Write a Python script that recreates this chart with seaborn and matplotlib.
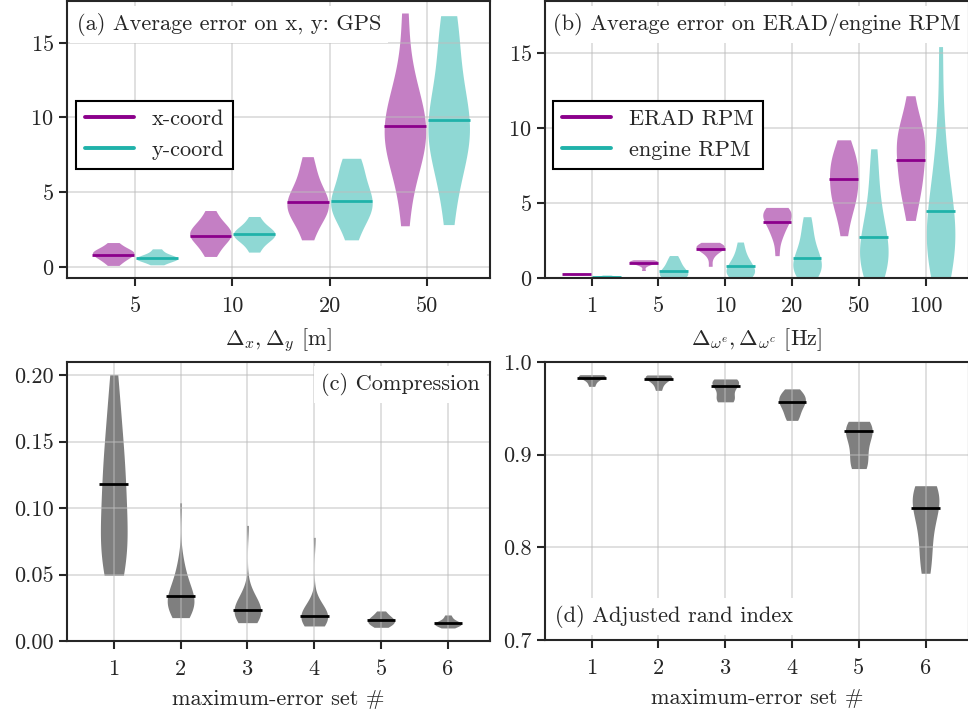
import pandas as pd
import matplotlib
matplotlib.use("Agg")
import matplotlib.pyplot as plt
from matplotlib.lines import Line2D
import seaborn as sns

# Category labels
gps_steps = ["5", "10", "20", "50"]
rpm_steps = ["1", "5", "10", "20", "50", "100"]
error_sets = ["1", "2", "3", "4", "5", "6"]

# (a) average GPS error samples, one list per step
gps_x = [
    [0.11, 0.35, 0.5, 0.62, 0.72, 0.8, 0.88, 0.95, 1.0, 1.05, 1.12, 1.25, 1.4, 1.64],
    [0.71, 1.2, 1.5, 1.8, 2.0, 2.1, 2.2, 2.3, 2.5, 2.7, 2.9, 3.2, 3.78],
    [1.82, 2.8, 3.3, 3.6, 3.9, 4.1, 4.3, 4.5, 4.8, 5.2, 5.8, 6.5, 7.38],
    [2.76, 5.5, 6.8, 7.5, 8.0, 8.5, 9.0, 9.4, 9.8, 10.3, 11.0, 12.0, 13.5, 16.98],
]
gps_y = [
    [0.15, 0.35, 0.45, 0.5, 0.55, 0.6, 0.65, 0.7, 0.8, 0.95, 1.22],
    [1.0, 1.5, 1.8, 2.0, 2.1, 2.2, 2.3, 2.4, 2.6, 2.9, 3.38],
    [1.82, 2.9, 3.4, 3.8, 4.1, 4.3, 4.6, 5.0, 5.5, 6.2, 6.9, 7.27],
    [2.84, 5.5, 7.0, 7.8, 8.4, 8.9, 9.4, 9.9, 10.5, 11.5, 12.8, 14.5, 16.0, 16.8],
]
gps_x_mean = [0.78, 2.11, 4.38, 9.44]
gps_y_mean = [0.60, 2.18, 4.40, 9.82]

# (b) average ERAD / engine RPM error samples
erad = [
    [0.2, 0.25, 0.27, 0.28, 0.3, 0.33],
    [0.5, 0.85, 0.95, 1.0, 1.05, 1.08, 1.1, 1.12, 1.15, 1.18, 1.22],
    [0.78, 1.4, 1.7, 1.85, 1.95, 2.0, 2.05, 2.1, 2.15, 2.2, 2.25, 2.38],
    [1.49, 2.6, 3.0, 3.3, 3.6, 3.85, 4.0, 4.15, 4.3, 4.4, 4.5, 4.6, 4.71],
    [2.82, 4.2, 4.9, 5.3, 5.6, 6.0, 6.5, 7.0, 7.3, 7.6, 8.0, 8.5, 9.22],
    [3.84, 5.3, 5.9, 6.4, 7.0, 7.6, 8.2, 8.8, 9.2, 9.5, 9.8, 10.5, 12.16],
]
engine = [
    [0.0, 0.02, 0.04, 0.06, 0.08, 0.1, 0.13, 0.2],
    [0.0, 0.05, 0.1, 0.2, 0.3, 0.4, 0.5, 0.6, 0.8, 1.0, 1.2, 1.5],
    [0.0, 0.1, 0.2, 0.3, 0.45, 0.6, 0.75, 0.9, 1.1, 1.4, 1.8, 2.4],
    [0.0, 0.2, 0.4, 0.6, 0.8, 1.0, 1.2, 1.5, 1.8, 2.2, 2.8, 3.4, 4.09],
    [0.0, 0.3, 0.7, 1.0, 1.4, 1.8, 2.2, 2.6, 3.1, 3.7, 4.5, 5.6, 7.0, 8.62],
    [0.0, 0.6, 1.2, 1.8, 2.3, 2.8, 3.3, 3.9, 4.6, 5.5, 6.6, 8.2, 10.5, 15.44],
]
erad_mean = [0.27, 1.0, 1.96, 3.73, 6.58, 7.87]
engine_mean = [0.09, 0.44, 0.78, 1.36, 2.71, 4.49]

# (c) compression per maximum-error set
compression = [
    [0.0495, 0.052, 0.058, 0.066, 0.072, 0.078, 0.085, 0.095, 0.105, 0.115,
     0.122, 0.13, 0.14, 0.15, 0.165, 0.18, 0.2005],
    [0.0176, 0.019, 0.021, 0.023, 0.025, 0.026, 0.027, 0.028, 0.029, 0.030, 0.031,
     0.032, 0.034, 0.036, 0.038, 0.040, 0.043, 0.046, 0.050, 0.055, 0.062, 0.104],
    [0.0138, 0.015, 0.016, 0.017, 0.018, 0.019, 0.020, 0.021, 0.022, 0.023,
     0.024, 0.025, 0.026, 0.027, 0.028, 0.030, 0.032, 0.035, 0.039, 0.087],
    [0.0113, 0.012, 0.013, 0.014, 0.015, 0.016, 0.017, 0.0175, 0.018, 0.0185,
     0.019, 0.020, 0.021, 0.022, 0.023, 0.025, 0.027, 0.030, 0.078],
    [0.0103, 0.012, 0.013, 0.014, 0.015, 0.016, 0.017, 0.018, 0.02, 0.0226],
    [0.0098, 0.011, 0.012, 0.0125, 0.013, 0.0135, 0.014, 0.015, 0.017, 0.0196],
]
compression_mean = [0.118, 0.0339, 0.0236, 0.0188, 0.0156, 0.0133]

# (d) adjusted rand index per maximum-error set
ari = [
    [0.9737, 0.978, 0.981, 0.983, 0.984, 0.985, 0.9855, 0.986, 0.9863],
    [0.9694, 0.975, 0.979, 0.981, 0.983, 0.984, 0.985, 0.9855, 0.986],
    [0.957, 0.958, 0.96, 0.963, 0.968, 0.972, 0.975, 0.977, 0.979, 0.98, 0.981, 0.9817],
    [0.937, 0.94, 0.945, 0.95, 0.953, 0.956, 0.958, 0.96, 0.962, 0.965, 0.968, 0.971],
    [0.885, 0.887, 0.892, 0.9, 0.908, 0.915, 0.92, 0.925, 0.928, 0.931, 0.934, 0.936],
    [0.772, 0.785, 0.8, 0.815, 0.828, 0.838, 0.845, 0.85, 0.855, 0.86, 0.864, 0.8665],
]
ari_mean = [0.9827, 0.982, 0.974, 0.957, 0.926, 0.842]

PURPLE = "darkmagenta"
TEAL = "lightseagreen"
FS = 16.1


def to_long(groups, steps, kind):
    rows = []
    for step, vals in zip(steps, groups):
        for v in vals:
            rows.append({"step": step, "value": v, "kind": kind})
    return pd.DataFrame(rows)


def draw_means(ax, means, color, offset, half):
    for i, m in enumerate(means):
        ax.hlines(m, i + offset - half, i + offset + half, color=color, lw=2.0, zorder=4)


def style_axes(ax, xlabel):
    ax.set_xlabel(xlabel, fontsize=FS, labelpad=8)
    ax.set_ylabel("")
    ax.set_axisbelow(False)
    ax.grid(True, color="#bdbdbd", lw=1.1, alpha=0.6, zorder=2.5)
    for s in ax.spines.values():
        s.set_visible(True)
        s.set_linewidth(1.5)
        s.set_zorder(6)
    ax.tick_params(direction="out", length=6, width=1.5, labelsize=FS)
    ax.tick_params(axis="x", pad=7)


def label_box(ax, x, y, text, ha="left"):
    ax.text(x, y, text, transform=ax.transAxes, ha=ha, va="center", fontsize=FS,
            zorder=5, bbox=dict(facecolor="white", edgecolor="none", pad=5))


def add_legend(ax, labels, anchor):
    handles = [Line2D([0], [0], color=PURPLE, lw=2.8),
               Line2D([0], [0], color=TEAL, lw=2.8)]
    leg = ax.legend(handles, labels, loc="upper left", bbox_to_anchor=anchor,
                    borderaxespad=0, fancybox=False, framealpha=1, edgecolor="black",
                    fontsize=FS, handlelength=2.2)
    leg.get_frame().set_linewidth(1.5)
    leg.set_zorder(7)


sns.set_style("ticks")
plt.rcParams["font.family"] = ["cmr10", "DejaVu Serif"]
plt.rcParams["mathtext.fontset"] = "cm"
plt.rcParams["axes.formatter.use_mathtext"] = True
plt.rcParams["font.size"] = FS

fig = plt.figure(figsize=(9.68, 7.13), dpi=100)
ax_a = fig.add_axes([0.0692, 0.6101, 0.4370, 0.3889])
ax_b = fig.add_axes([0.5630, 0.6101, 0.4380, 0.3889])
ax_c = fig.add_axes([0.0692, 0.1010, 0.4370, 0.3913])
ax_d = fig.add_axes([0.5630, 0.1024, 0.4380, 0.3899])

violin_kw = dict(cut=0, inner=None, linewidth=0, density_norm="width",
                 saturation=1, alpha=0.5)

# (a) GPS
df_a = pd.concat([to_long(gps_x, gps_steps, "x-coord"),
                  to_long(gps_y, gps_steps, "y-coord")])
sns.violinplot(data=df_a, x="step", y="value", hue="kind", order=gps_steps,
               hue_order=["x-coord", "y-coord"], palette=[PURPLE, TEAL],
               width=0.9, gap=0.05, legend=False, ax=ax_a, **violin_kw)
draw_means(ax_a, gps_x_mean, PURPLE, -0.225, 0.215)
draw_means(ax_a, gps_y_mean, TEAL, 0.225, 0.215)
style_axes(ax_a, r"$\Delta_x, \Delta_y$ [m]")
ax_a.set_xlim(-0.7, 3.65)
ax_a.set_ylim(-0.73, 17.8)
ax_a.set_yticks([0, 5, 10, 15])
label_box(ax_a, 0.024, 0.915, "(a) Average error on x, y: GPS")
add_legend(ax_a, ["x-coord", "y-coord"], (0.021, 0.64))

# (b) RPM
df_b = pd.concat([to_long(erad, rpm_steps, "ERAD RPM"),
                  to_long(engine, rpm_steps, "engine RPM")])
sns.violinplot(data=df_b, x="step", y="value", hue="kind", order=rpm_steps,
               hue_order=["ERAD RPM", "engine RPM"], palette=[PURPLE, TEAL],
               width=0.9, gap=0.05, legend=False, ax=ax_b, **violin_kw)
draw_means(ax_b, erad_mean, PURPLE, -0.225, 0.215)
draw_means(ax_b, engine_mean, TEAL, 0.225, 0.215)
style_axes(ax_b, r"$\Delta_{\omega^e}, \Delta_{\omega^c}$ [Hz]")
ax_b.set_xlim(-0.7, 5.65)
ax_b.set_ylim(0, 18.5)
ax_b.set_yticks([0, 5, 10, 15])
label_box(ax_b, 0.019, 0.915, "(b) Average error on ERAD/engine RPM")
add_legend(ax_b, ["ERAD RPM", "engine RPM"], (0.019, 0.64))

# (c) compression
df_c = to_long(compression, error_sets, "c")
sns.violinplot(data=df_c, x="step", y="value", order=error_sets, color="black",
               width=0.4, ax=ax_c, **violin_kw)
draw_means(ax_c, compression_mean, "black", 0.0, 0.215)
style_axes(ax_c, "maximum-error set #")
ax_c.set_xlim(-0.7, 5.63)
ax_c.set_ylim(0, 0.21)
ax_c.set_yticks([0, 0.05, 0.10, 0.15, 0.20])
ax_c.yaxis.set_major_formatter(matplotlib.ticker.FormatStrFormatter("%.2f"))
label_box(ax_c, 0.976, 0.918, "(c) Compression", ha="right")

# (d) adjusted rand index
df_d = to_long(ari, error_sets, "d")
sns.violinplot(data=df_d, x="step", y="value", order=error_sets, color="black",
               width=0.4, ax=ax_d, **violin_kw)
draw_means(ax_d, ari_mean, "black", 0.0, 0.215)
style_axes(ax_d, "maximum-error set #")
ax_d.set_xlim(-0.7, 5.65)
ax_d.set_ylim(0.7, 1.0)
ax_d.set_yticks([0.7, 0.8, 0.9, 1.0])
ax_d.yaxis.set_major_formatter(matplotlib.ticker.FormatStrFormatter("%.1f"))
label_box(ax_d, 0.024, 0.083, "(d) Adjusted rand index")

fig.savefig("out.png", dpi=100)
